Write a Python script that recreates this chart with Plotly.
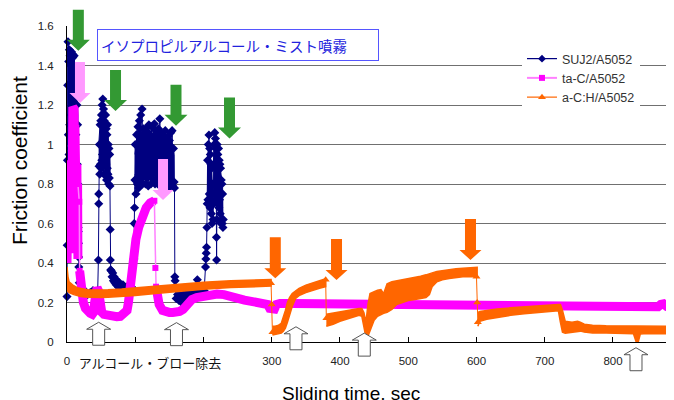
import plotly.graph_objects as go

# ---------------- axis extents ----------------
XMAX = 889.4
YMAX = 1.6
x_ticks = [0, 100, 200, 300, 400, 500, 600, 700, 800]
x_ticktext = ["0", "", "", "300", "400", "500", "600", "700", "800"]
y_ticks = [0, 0.2, 0.4, 0.6, 0.8, 1.0, 1.2, 1.4, 1.6]
y_ticktext = ["0", "0.2", "0.4", "0.6", "0.8", "1", "1.2", "1.4", "1.6"]

# ---------------- SUJ2/A5052 (navy) ----------------
suj2_t = [0, 0.3, 0.6, 1, 1.5, 2, 2.5, 3, 3.5, 4, 4.5, 5, 5.5, 6, 6.5, 7, 7.5, 8, 8.5, 9, 9.5, 10,
          10.5, 11, 11.5, 12, 12.5, 13, 13.5, 14, 14.5, 15, 15.5, 16, 16.3, 16.5, 16.8, 17, 17.3, 18, 19,
          22, 26, 30, 34, 38, 42, 45,
          46, 46.5, 46.5, 47, 47.5, 48, 48.5, 49, 49.5, 50, 50.5, 51, 51.5, 52, 52.5, 53, 53.5, 54, 54.5,
          55, 55.5, 56, 56.5, 57, 57.5, 58, 58.5, 59, 59.5, 60, 60.5, 61, 61.5, 62, 62.5, 63, 63.3, 63.5, 64,
          65, 66, 67, 68, 69, 70, 71, 72, 73, 75, 77, 79, 82, 85, 88, 91, 94, 97,
          98, 98.5, 99, 99.5, 100, 101, 102, 103, 104, 105, 106, 107, 108, 109, 110, 111, 112, 113, 114,
          115, 116, 117, 118, 119, 120, 121, 122, 123, 124, 125, 126, 127, 128, 129, 130, 131, 132, 133,
          134, 135, 136, 137, 138, 139, 140, 141, 142, 143, 144, 145, 146, 147, 148, 149, 150, 151, 152,
          153, 154, 155, 156, 157, 157.5, 158, 158.5,
          160, 162, 164, 166, 168, 170, 172, 175, 178, 181, 184, 187, 190, 191, 193, 196, 199, 201,
          203, 203.5, 204, 204.5, 205, 205.5, 206, 206.5, 207, 207.5, 208, 208.5, 209, 209.5, 210, 210.5,
          211, 211.5, 212, 212.5, 213, 214, 214.5, 215, 215.5, 216, 216.5, 217, 217.5, 218, 218.5, 219,
          219.2, 219.5, 220, 220.5, 221, 221.5, 222, 222.5, 223, 223.5, 224, 224.5, 225, 225.5, 226, 226.5,
          227, 227.5, 228, 228.5, 229]
suj2_y = [0.23, 0.49, 0.92, 1.30, 1.52, 1.05, 1.42, 0.95, 1.48, 1.10, 1.45, 0.98, 1.40, 1.15, 1.47, 1.00,
          1.46, 1.10, 1.44, 0.95, 1.40, 1.20, 1.45, 1.00, 1.38, 0.90, 1.35, 1.05, 1.30, 0.85, 1.20, 0.90,
          1.10, 0.80, 0.58, 0.56, 0.50, 0.43, 0.38, 0.30, 0.26,
          0.25, 0.26, 0.24, 0.25, 0.26, 0.25, 0.26,
          0.415, 0.70, 0.75, 0.89, 1.00, 0.85, 1.10, 0.90, 1.12, 0.88, 1.15, 0.92, 1.20, 0.95, 1.23, 0.90,
          1.18, 0.85, 1.12, 0.95, 1.10, 0.85, 1.15, 0.90, 1.08, 0.82, 1.05, 0.88, 1.10, 0.85, 1.00, 0.80,
          0.98, 0.83, 0.95, 0.79, 0.57, 0.415, 0.365,
          0.36, 0.33, 0.35, 0.31, 0.33, 0.30, 0.32, 0.29, 0.31, 0.28, 0.30, 0.27, 0.29, 0.27, 0.28, 0.26,
          0.28, 0.27,
          0.42, 0.60, 0.68, 0.82, 1.00, 0.75, 1.05, 0.80, 1.09, 0.78, 1.12, 0.82, 1.15, 0.85, 1.18, 0.80,
          1.08, 0.84, 1.06, 0.80, 1.07, 0.83, 1.09, 0.79, 1.10, 0.84, 1.05, 0.80, 1.09, 0.86, 1.03, 0.82,
          1.105, 0.80, 1.07, 0.85, 1.04, 0.80, 1.08, 0.83, 1.13, 0.79, 1.06, 0.84, 1.05, 0.80, 1.02, 0.82,
          1.07, 0.79, 1.00, 0.83, 1.04, 0.78, 1.02, 0.81, 1.06, 0.80, 1.07, 0.79, 0.98, 0.81, 0.78, 0.33,
          0.31,
          0.22, 0.24, 0.21, 0.235, 0.20, 0.24, 0.215, 0.245, 0.22, 0.25, 0.225, 0.255, 0.24, 0.315, 0.25,
          0.26, 0.245, 0.26,
          0.38, 0.42, 0.45, 0.48, 0.58, 0.70, 0.92, 0.72, 1.00, 0.70, 1.048, 0.75, 0.98, 0.68, 0.95, 0.70,
          0.90, 0.65, 0.88, 0.60, 0.80, 0.62, 0.90, 0.70, 1.00, 0.75, 1.06, 0.80, 1.03, 0.72, 0.98, 0.53,
          0.415, 0.62, 1.00, 0.70, 0.95, 0.75, 0.98, 0.68, 0.92, 0.72, 0.90, 0.65, 0.88, 0.60, 0.82, 0.62,
          0.80, 0.60, 0.75, 0.58, 0.62]

# dense cores of the SUJ2 clusters (time, low, high)
suj2_c1_t = [0.5, 2, 4, 6, 8, 10, 12, 14, 16]
suj2_c1_lo = [1.00, 1.05, 1.00, 1.10, 1.05, 1.10, 1.00, 0.95, 0.90]
suj2_c1_hi = [1.45, 1.50, 1.46, 1.46, 1.45, 1.44, 1.40, 1.30, 1.15]
suj2_c2_t = [46.5, 48, 50, 52, 54, 56, 58, 60, 62, 63]
suj2_c2_lo = [0.90, 0.88, 0.90, 0.92, 0.90, 0.88, 0.86, 0.84, 0.83, 0.82]
suj2_c2_hi = [1.00, 1.08, 1.12, 1.18, 1.18, 1.14, 1.08, 1.05, 0.98, 0.90]
suj2_c3_t = [99.5, 102, 106, 110, 115, 120, 125, 130, 135, 140, 145, 150, 155, 157]
suj2_c3_lo = [0.85, 0.80, 0.83, 0.85, 0.83, 0.84, 0.85, 0.84, 0.84, 0.83, 0.83, 0.82, 0.82, 0.82]
suj2_c3_hi = [0.95, 1.02, 1.10, 1.05, 1.06, 1.07, 1.05, 1.08, 1.05, 1.03, 1.04, 1.03, 1.00, 0.95]
suj2_c4_t = [205.5, 207, 209, 211, 212.5]
suj2_c4_lo = [0.70, 0.72, 0.70, 0.68, 0.65]
suj2_c4_hi = [0.90, 0.98, 0.96, 0.90, 0.82]
suj2_c5_t = [214.5, 216, 218, 220, 222, 224, 226, 228]
suj2_c5_lo = [0.70, 0.75, 0.75, 0.72, 0.70, 0.68, 0.65, 0.62]
suj2_c5_hi = [0.90, 1.02, 1.00, 0.95, 0.95, 0.90, 0.85, 0.78]

# ---------------- ta-C/A5052 (magenta) ----------------
tac_b1_t = [0, 0.5, 1, 1.5, 2, 2.5, 3, 3.5, 4, 4.5, 5, 5.5, 6, 6.5, 7, 7.5, 8, 8.5, 9, 9.5, 10, 10.5,
            11, 11.5, 12, 12.5, 13, 13.5, 14, 14.5, 15, 15.5, 16]
tac_b1_y = [0.40, 0.50, 0.44, 0.85, 0.60, 0.90, 0.50, 0.88, 0.65, 0.92, 0.55, 0.85, 0.60, 0.90, 0.45,
            0.95, 0.70, 1.19, 0.78, 1.15, 0.80, 1.18, 0.75, 1.10, 0.80, 1.05, 0.72, 1.00, 0.60, 0.90,
            0.50, 0.80, 0.42]
tac_b2_t = [18.5, 20, 22, 24, 27, 30, 34, 37, 39, 40.5, 42, 44, 46, 47.5, 49, 51, 54, 58, 63, 68, 73,
            78, 82, 85, 88, 90, 92, 95, 98, 101, 105, 110, 116, 122, 128]
tac_b2_y = [0.36, 0.30, 0.24, 0.20, 0.17, 0.155, 0.145, 0.14, 0.15, 0.20, 0.26, 0.275, 0.26, 0.20,
            0.165, 0.15, 0.14, 0.135, 0.13, 0.128, 0.128, 0.13, 0.14, 0.15, 0.16, 0.20, 0.27, 0.38,
            0.45, 0.52, 0.58, 0.64, 0.68, 0.705, 0.715]
tac_b3_t = [130.5, 132, 135, 140, 145, 150, 155, 160, 165, 170, 174, 178, 183, 190, 200, 210, 220, 230,
            240, 250, 260, 270, 280, 290, 294, 297, 300, 304, 307, 312, 330, 360, 400, 450, 500, 550,
            600, 650, 700, 750, 800, 850, 866, 870, 874, 879, 890]
tac_b3_y = [0.28, 0.24, 0.19, 0.16, 0.152, 0.15, 0.15, 0.15, 0.155, 0.165, 0.18, 0.20, 0.215, 0.225,
            0.232, 0.238, 0.243, 0.24, 0.228, 0.22, 0.212, 0.206, 0.2, 0.195, 0.19, 0.17, 0.165, 0.167,
            0.19, 0.195, 0.195, 0.194, 0.193, 0.19, 0.189, 0.188, 0.187, 0.185, 0.183, 0.18, 0.178,
            0.177, 0.178, 0.19, 0.193, 0.179, 0.176]
tac_link_t = [16, 18, 18.5, None, 128, 129.5, 130.5]
tac_link_y = [0.80, 0.71, 0.36, None, 0.715, 0.375, 0.28]

# ---------------- a-C:H/A5052 (orange): band envelopes ----------------
ach_s1_t = [0, 0.5, 1.5, 3, 6, 10, 15, 20, 30, 40, 50, 60, 80, 100, 130, 160, 200, 240, 270, 299]
ach_s1_lo = [0.27, 0.262, 0.255, 0.25, 0.245, 0.24, 0.235, 0.23, 0.227, 0.225, 0.225, 0.227, 0.23,
             0.236, 0.245, 0.255, 0.267, 0.276, 0.28, 0.283]
ach_s1_hi = [0.38, 0.37, 0.33, 0.305, 0.295, 0.285, 0.275, 0.27, 0.265, 0.263, 0.262, 0.264, 0.268,
             0.274, 0.282, 0.29, 0.302, 0.31, 0.313, 0.316]
ach_s2_t = [301, 305, 310, 314, 317, 320, 323, 326, 330, 335, 340, 350, 360, 370, 379]
ach_s2_lo = [0.035, 0.037, 0.04, 0.045, 0.055, 0.07, 0.10, 0.14, 0.18, 0.22, 0.235, 0.25, 0.262,
             0.272, 0.28]
ach_s2_hi = [0.08, 0.08, 0.085, 0.095, 0.12, 0.16, 0.20, 0.225, 0.245, 0.26, 0.272, 0.288, 0.30,
             0.31, 0.32]
ach_s3_t = [380, 390, 400, 410, 420, 428, 432, 435, 438, 441, 444, 450, 455, 460, 464, 469, 476, 483,
            492, 500, 510, 518, 526, 531, 535, 542, 550, 560, 570, 580, 590, 601]
ach_s3_lo = [0.08, 0.09, 0.105, 0.115, 0.125, 0.135, 0.13, 0.07, 0.025, 0.03, 0.06, 0.11, 0.13, 0.14,
             0.145, 0.15, 0.165, 0.19, 0.20, 0.21, 0.215, 0.22, 0.225, 0.24, 0.28, 0.305, 0.315, 0.322,
             0.327, 0.33, 0.332, 0.33]
ach_s3_hi = [0.14, 0.145, 0.155, 0.16, 0.165, 0.17, 0.17, 0.15, 0.10, 0.19, 0.245, 0.255, 0.262, 0.265,
             0.245, 0.295, 0.305, 0.312, 0.318, 0.322, 0.328, 0.333, 0.34, 0.345, 0.35, 0.357, 0.362,
             0.367, 0.371, 0.374, 0.377, 0.378]
ach_s4_t = [602, 605, 615, 630, 650, 670, 690, 710, 720, 723, 726, 730, 740, 748, 752, 758, 770, 790,
            810, 830, 834, 837, 840, 845, 860, 875, 890]
ach_s4_lo = [0.08, 0.105, 0.115, 0.125, 0.135, 0.143, 0.15, 0.155, 0.158, 0.10, 0.05, 0.045, 0.05,
             0.055, 0.055, 0.05, 0.045, 0.045, 0.042, 0.042, 0.0, 0.0, 0.04, 0.042, 0.043, 0.042, 0.042]
ach_s4_hi = [0.15, 0.155, 0.16, 0.167, 0.173, 0.178, 0.183, 0.188, 0.19, 0.19, 0.16, 0.105, 0.10,
             0.105, 0.10, 0.09, 0.085, 0.082, 0.08, 0.08, 0.08, 0.08, 0.08, 0.08, 0.08, 0.08, 0.08]
ach_link_t = [299, 300, 301, None, 379, 380, None, 600, 601, 602]
ach_link_y = [0.298, 0.19, 0.05, None, 0.315, 0.12, None, 0.33, 0.20, 0.10]

# ---------------- annotation arrows (time, tip value) ----------------
green_arrows = [(16.6, 1.475), (71.1, 1.170), (159.7, 1.095), (238.1, 1.031)]
pink_arrows = [(19.0, 1.210), (140.7, 0.719)]
orange_arrows = [(305.2, 0.3225), (394.9, 0.314), (591.2, 0.415)]
white_arrows = [(46.4, 0.100), (160.4, 0.098), (335.5, 0.077), (435.6, 0.045), (833.7, -0.029)]

# ---------------- colours ----------------
NAVY = "#000080"
MAG = "#ff00ff"
MAG_LINE = "#ff80ff"
ORANGE = "#ff6600"

# ---------------- layout geometry (page px; the page body has an 8px margin) ----------------
OFF = 8
FW, FH = 674 - OFF, 400 - OFF
ML, MT = 67 - OFF, 26 - OFF
PW, PH = 607, 316
MR, MB = FW - ML - PW, FH - MT - PH


def d2px(t, v):
    return ML + OFF + t / XMAX * PW, MT + OFF + PH - v / YMAX * PH


def px2paper(px, py):
    return (px - OFF - ML) / PW, (MT + OFF + PH - py) / PH


def path_from_px(points):
    pts = [px2paper(px, py) for px, py in points]
    return "M " + " L ".join(f"{x:.5f},{y:.5f}" for x, y in pts) + " Z"


def down_arrow(t, v, length=41, shaft=11, head=23, head_len=11):
    cx, ty = d2px(t, v)
    top = ty - length
    hb = ty - head_len
    return [(cx - shaft / 2, top), (cx + shaft / 2, top), (cx + shaft / 2, hb), (cx + head / 2, hb),
            (cx, ty), (cx - head / 2, hb), (cx - shaft / 2, hb)]


def up_arrow(t, v, length=23, shaft=12, head=24, head_len=7):
    cx, ty = d2px(t, v)
    bot = ty + length
    hb = ty + head_len
    return [(cx - shaft / 2, bot), (cx + shaft / 2, bot), (cx + shaft / 2, hb), (cx + head / 2, hb),
            (cx, ty), (cx - head / 2, hb), (cx - shaft / 2, hb)]


fig = go.Figure()

# navy series: dense cores, then the sampled line
for ct, lo, hi in [(suj2_c1_t, suj2_c1_lo, suj2_c1_hi), (suj2_c2_t, suj2_c2_lo, suj2_c2_hi),
                   (suj2_c3_t, suj2_c3_lo, suj2_c3_hi), (suj2_c4_t, suj2_c4_lo, suj2_c4_hi),
                   (suj2_c5_t, suj2_c5_lo, suj2_c5_hi)]:
    fig.add_trace(go.Scatter(x=ct + ct[::-1], y=lo + hi[::-1], mode="lines", fill="toself",
                             fillcolor=NAVY, line=dict(color=NAVY, width=1),
                             showlegend=False, hoverinfo="skip"))
fig.add_trace(go.Scatter(x=suj2_t, y=suj2_y, mode="lines+markers", name="SUJ2/A5052",
                         line=dict(color=NAVY, width=1),
                         marker=dict(symbol="diamond", size=7, color=NAVY),
                         cliponaxis=False, showlegend=False, hoverinfo="skip"))

# magenta series
for bt, by in [(tac_b1_t, tac_b1_y), (tac_b2_t, tac_b2_y), (tac_b3_t, tac_b3_y)]:
    fig.add_trace(go.Scatter(x=bt, y=by, mode="lines", line=dict(color=MAG, width=9),
                             showlegend=False, hoverinfo="skip"))
fig.add_trace(go.Scatter(x=tac_link_t, y=tac_link_y, mode="lines+markers",
                         line=dict(color=MAG_LINE, width=1.5),
                         marker=dict(symbol="square", size=6, color=MAG),
                         showlegend=False, hoverinfo="skip"))

# orange series
for st, lo, hi in [(ach_s1_t, ach_s1_lo, ach_s1_hi), (ach_s2_t, ach_s2_lo, ach_s2_hi),
                   (ach_s3_t, ach_s3_lo, ach_s3_hi), (ach_s4_t, ach_s4_lo, ach_s4_hi)]:
    fig.add_trace(go.Scatter(x=st + st[::-1], y=lo + hi[::-1], mode="lines", fill="toself",
                             fillcolor=ORANGE, line=dict(color=ORANGE, width=1.5),
                             showlegend=False, hoverinfo="skip"))
fig.add_trace(go.Scatter(x=ach_link_t, y=ach_link_y, mode="lines+markers",
                         line=dict(color=ORANGE, width=1),
                         marker=dict(symbol="triangle-up", size=7, color=ORANGE),
                         showlegend=False, hoverinfo="skip"))

# legend entries
fig.add_trace(go.Scatter(x=[None], y=[None], mode="lines+markers", name="SUJ2/A5052",
                         line=dict(color=NAVY, width=1.2), marker=dict(symbol="diamond", size=6, color=NAVY)))
fig.add_trace(go.Scatter(x=[None], y=[None], mode="lines+markers", name="ta-C/A5052",
                         line=dict(color=MAG_LINE, width=2), marker=dict(symbol="square", size=6, color=MAG)))
fig.add_trace(go.Scatter(x=[None], y=[None], mode="lines+markers", name="a-C:H/A5052",
                         line=dict(color=ORANGE, width=1.2), marker=dict(symbol="triangle-up", size=7, color=ORANGE)))

shapes = []
for t, v in green_arrows:
    shapes.append(dict(type="path", xref="paper", yref="paper", path=path_from_px(down_arrow(t, v)),
                       fillcolor="#339933", line=dict(width=0), layer="above"))
for t, v in pink_arrows:
    shapes.append(dict(type="path", xref="paper", yref="paper",
                       path=path_from_px(down_arrow(t, v, length=41, shaft=10, head=21, head_len=10)),
                       fillcolor="#ff99ff", line=dict(width=0), layer="above"))
for t, v in orange_arrows:
    shapes.append(dict(type="path", xref="paper", yref="paper",
                       path=path_from_px(down_arrow(t, v, length=41, shaft=11, head=22, head_len=10)),
                       fillcolor=ORANGE, line=dict(width=0), layer="above"))
for t, v in white_arrows:
    shapes.append(dict(type="path", xref="paper", yref="paper", path=path_from_px(up_arrow(t, v)),
                       fillcolor="white", line=dict(color="#555555", width=1), layer="above"))

LAT = "Liberation Sans, Arial, sans-serif"
JP = "Noto Sans CJK JP, sans-serif"

annotations = [
    dict(text="イソプロピルアルコール・ミスト噴霧", xref="paper", yref="paper",
         x=px2paper(238, 0)[0], y=px2paper(0, 45)[1], xanchor="center", yanchor="middle",
         showarrow=False, width=274, height=24, align="left", borderpad=3,
         bgcolor="white", bordercolor="#5555ff", borderwidth=1,
         font=dict(family=JP, size=14.5, color="#2222dd")),
    dict(text="アルコール・ブロー除去", xref="paper", yref="paper",
         x=px2paper(150, 0)[0], y=px2paper(0, 362)[1], xanchor="center", yanchor="middle",
         showarrow=False, width=150, height=20, bgcolor="white",
         font=dict(family=JP, size=13, color="#111111")),
    dict(text="Friction coefficient", xref="paper", yref="paper",
         x=px2paper(20, 0)[0], y=px2paper(0, 161)[1], xanchor="center", yanchor="middle",
         textangle=-90, showarrow=False, font=dict(family=LAT, size=21, color="#000000")),
    dict(text="Sliding time, sec", xref="paper", yref="paper",
         x=px2paper(351, 0)[0], y=px2paper(0, 381)[1], xanchor="center", yanchor="top",
         showarrow=False, font=dict(family=LAT, size=19, color="#000000")),
]

fig.update_layout(
    width=FW, height=FH,
    margin=dict(l=ML, r=MR, t=MT, b=MB, pad=0, autoexpand=False),
    paper_bgcolor="white", plot_bgcolor="white",
    showlegend=True,
    legend=dict(x=px2paper(522, 0)[0], y=px2paper(0, 44)[1], xanchor="left", yanchor="top",
                bgcolor="white", borderwidth=0, font=dict(family=LAT, size=12.5, color="#333333"),
                itemwidth=30, tracegroupgap=0),
    shapes=shapes,
    annotations=annotations,
    xaxis=dict(range=[0, XMAX], tickvals=x_ticks, ticktext=x_ticktext, showgrid=False, zeroline=False,
               showline=True, linecolor="black", linewidth=1, ticks="inside", ticklen=5,
               tickcolor="black", tickfont=dict(family=LAT, size=11.5, color="#222222"),
               ticklabelstandoff=8, automargin=False),
    yaxis=dict(range=[0, YMAX], tickvals=y_ticks, ticktext=y_ticktext,
               showgrid=True, gridcolor="#707070", gridwidth=1,
               zeroline=False, showline=True, linecolor="black", linewidth=1, ticks="",
               tickfont=dict(family=LAT, size=11.5, color="#222222"), ticklabelstandoff=10,
               automargin=False),
)

fig.write_html("out.html")
